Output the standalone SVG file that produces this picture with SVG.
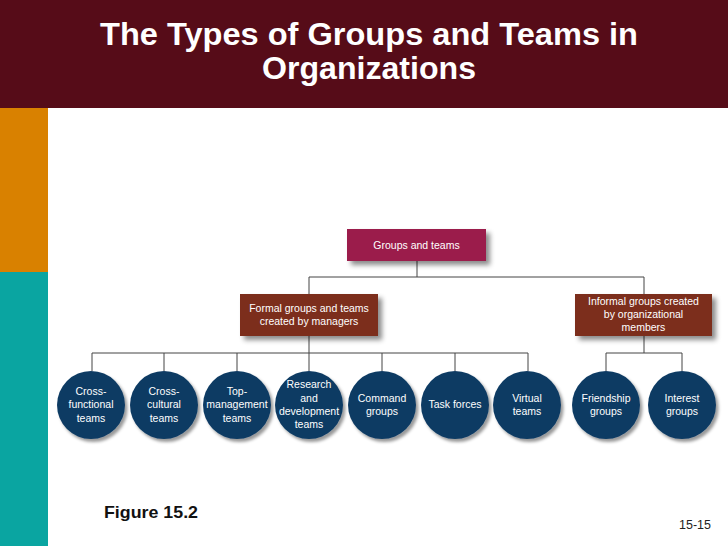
<svg xmlns="http://www.w3.org/2000/svg" width="728" height="546" viewBox="0 0 728 546">
<defs>
<filter id="sh" x="-30%" y="-30%" width="160%" height="160%">
<feDropShadow dx="4" dy="4" stdDeviation="2.5" flood-color="#000" flood-opacity="0.45"/>
</filter>
<filter id="csh" x="-30%" y="-30%" width="160%" height="160%">
<feDropShadow dx="2.5" dy="3" stdDeviation="1.8" flood-color="#000" flood-opacity="0.4"/>
</filter>
</defs>
<style>
.title{font-family:"Liberation Sans",Arial,sans-serif;font-weight:bold;font-size:31px;fill:#fff;text-anchor:middle}
.lbl{font-family:"Liberation Sans",Arial,sans-serif;font-size:10.5px;fill:#fff;text-anchor:middle}
.circ{fill:#0e3b63;filter:url(#csh)}
.box1{fill:#9b1c4c;filter:url(#sh)}
.box2{fill:#7b2f1c;filter:url(#sh)}
.ln{stroke:#444;stroke-width:1;fill:none}
</style>
<rect x="0" y="0" width="728" height="546" fill="#fff"/>
<rect x="0" y="0" width="728" height="108" fill="#560c18"/>
<rect x="0" y="108" width="48" height="164" fill="#d98100"/>
<rect x="0" y="272" width="48" height="274" fill="#0aa5a1"/>
<text class="title" x="369" y="45" textLength="538" lengthAdjust="spacingAndGlyphs">The Types of Groups and Teams in</text>
<text class="title" x="369" y="79" textLength="214" lengthAdjust="spacingAndGlyphs">Organizations</text>
<g id="connectors">
<path class="ln" stroke="#777" d="M417 261V277"/>
<path class="ln" d="M309 277H644M309 277V294M644 277V294"/>
<path class="ln" d="M309 336V371M92 353H528M92 353V371M164 353V371M237 353V371M382 353V371M455 353V371M528 353V371"/>
<path class="ln" d="M644 336V353M606 353H682M606 353V371M682 353V371"/>
</g>
<g id="groups-and-teams">
<rect class="box1" x="347" y="229" width="139" height="32"/>
<text class="lbl" x="416.5" y="248.5">Groups and teams</text>
</g>
<g id="formal">
<rect class="box2" x="240" y="294" width="138" height="42"/>
<text class="lbl" x="309" y="312">Formal groups and teams</text>
<text class="lbl" x="309" y="325">created by managers</text>
</g>
<g id="informal">
<rect class="box2" x="575" y="294" width="137" height="42"/>
<text class="lbl" x="643.5" y="304.5">Informal groups created</text>
<text class="lbl" x="643.5" y="317.7">by organizational</text>
<text class="lbl" x="643.5" y="331">members</text>
</g>
<g id="cross-functional">
<circle class="circ" cx="91" cy="405" r="34"/>
<text class="lbl" x="91" y="395">Cross-</text>
<text class="lbl" x="91" y="408.3">functional</text>
<text class="lbl" x="91" y="421.6">teams</text>
</g>
<g id="cross-cultural">
<circle class="circ" cx="164" cy="405" r="34"/>
<text class="lbl" x="164" y="395">Cross-</text>
<text class="lbl" x="164" y="408.3">cultural</text>
<text class="lbl" x="164" y="421.6">teams</text>
</g>
<g id="top-management">
<circle class="circ" cx="237" cy="405" r="34"/>
<text class="lbl" x="237" y="395">Top-</text>
<text class="lbl" x="237" y="408.3">management</text>
<text class="lbl" x="237" y="421.6">teams</text>
</g>
<g id="research">
<circle class="circ" cx="309" cy="405" r="34"/>
<text class="lbl" x="309" y="388.3">Research</text>
<text class="lbl" x="309" y="401.6">and</text>
<text class="lbl" x="309" y="414.9">development</text>
<text class="lbl" x="309" y="428.2">teams</text>
</g>
<g id="command">
<circle class="circ" cx="382" cy="405" r="34"/>
<text class="lbl" x="382" y="401.7">Command</text>
<text class="lbl" x="382" y="415">groups</text>
</g>
<g id="task-forces">
<circle class="circ" cx="455" cy="405" r="34"/>
<text class="lbl" x="455" y="408.3">Task forces</text>
</g>
<g id="virtual">
<circle class="circ" cx="527" cy="405" r="34"/>
<text class="lbl" x="527" y="401.7">Virtual</text>
<text class="lbl" x="527" y="415">teams</text>
</g>
<g id="friendship">
<circle class="circ" cx="606" cy="405" r="34"/>
<text class="lbl" x="606" y="401.7">Friendship</text>
<text class="lbl" x="606" y="415">groups</text>
</g>
<g id="interest">
<circle class="circ" cx="682" cy="405" r="34"/>
<text class="lbl" x="682" y="401.7">Interest</text>
<text class="lbl" x="682" y="415">groups</text>
</g>
<text x="104" y="518" font-family="'Liberation Sans',Arial,sans-serif" font-weight="bold" font-size="17" fill="#111" textLength="94" lengthAdjust="spacingAndGlyphs">Figure 15.2</text>
<text x="679" y="529" font-family="'Liberation Sans',Arial,sans-serif" font-size="12.5" fill="#222">15-15</text>
</svg>
